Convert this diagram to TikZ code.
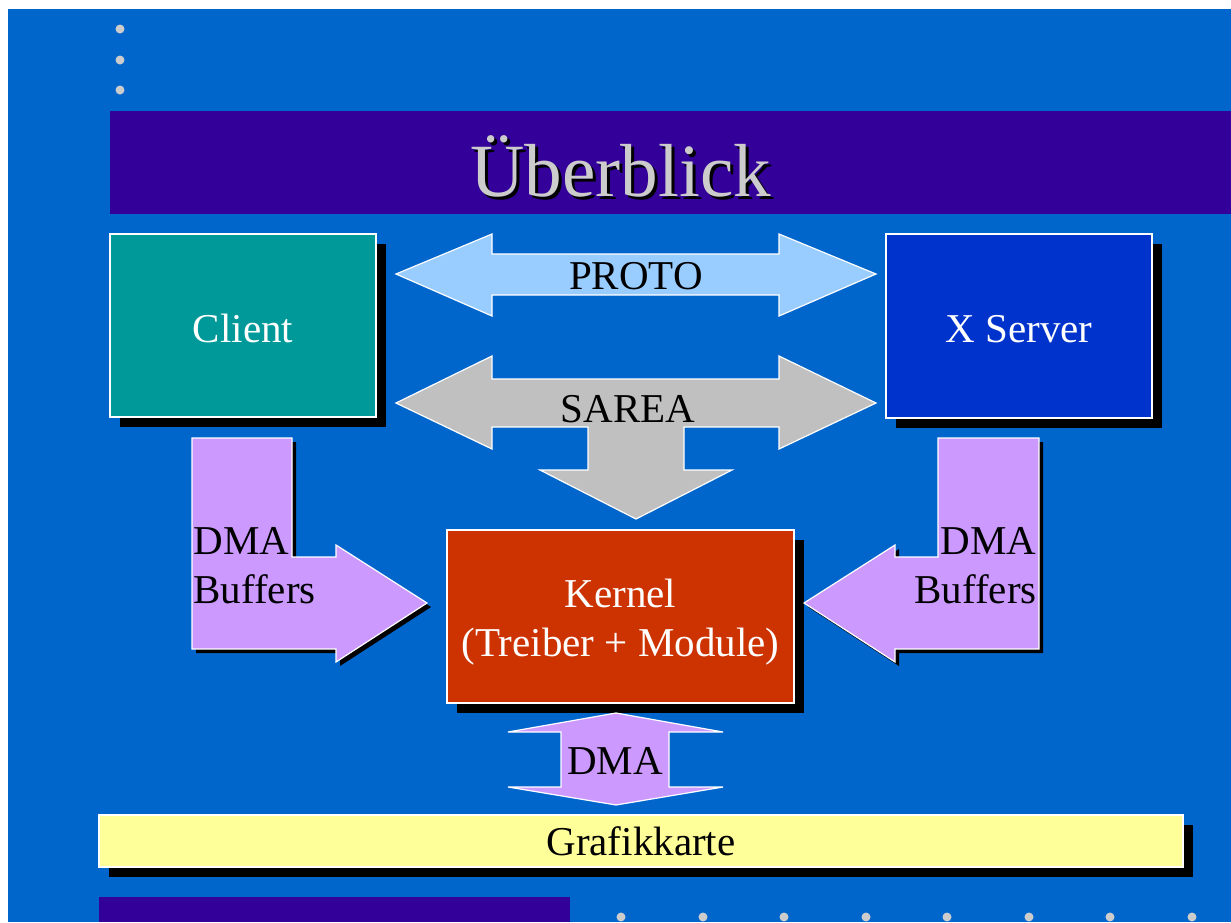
\documentclass[tikz,border=0pt]{standalone}
\usepackage{fontspec}
\setmainfont{Liberation Serif}
\usetikzlibrary{shadows}

\definecolor{slidebg}{HTML}{0066CC}
\definecolor{barpurple}{HTML}{330099}
\definecolor{clientteal}{HTML}{009999}
\definecolor{serverblue}{HTML}{0033CC}
\definecolor{protoblue}{HTML}{99CCFF}
\definecolor{sareagray}{HTML}{C0C0C0}
\definecolor{lilac}{HTML}{CC99FF}
\definecolor{kernelred}{HTML}{CC3300}
\definecolor{cardyellow}{HTML}{FFFF99}
\definecolor{dotgray}{HTML}{CCCCCC}

\tikzset{
  bodyfont/.style={font=\fontsize{20.5}{24.5}\selectfont},
  boxshape/.style={draw=white, line width=0.6pt, inner sep=0pt, bodyfont,
    drop shadow={shadow xshift=5pt, shadow yshift=-5pt, fill=black, opacity=1}},
  blockarrow/.style={draw=white, line width=0.6pt, line join=miter},
  lshadow/.style={drop shadow={shadow xshift=2pt, shadow yshift=-2pt, fill=black, opacity=1}},
  lbl/.style={bodyfont, inner sep=0pt, anchor=base},
  bullet/.style={fill=dotgray},
}

\begin{document}
\begin{tikzpicture}[x=0.5pt, y=-0.5pt]
  \useasboundingbox (0,0) rectangle (1231,922);
  \fill[white] (0,0) rectangle (1231,922);
  \fill[slidebg] (8,9) rectangle (1231,922);

  % bullets and bars of the slide frame
  \foreach \yy in {29,60,90} \fill[bullet] (120,\yy) circle (4.5);
  \foreach \xx in {621,703,784,866,947,1029,1110,1192} \fill[bullet] (\xx,917) circle (4.5);
  \fill[barpurple] (110,111) rectangle (1231,214);
  \fill[barpurple] (99,897) rectangle (570,922);

  % title with shadow
  \node[font=\fontsize{37.6}{40}\selectfont, text=black, anchor=base, inner sep=0pt] (titleshadow) at (624,199) {Überblick};
  \node[font=\fontsize{37.6}{40}\selectfont, text=dotgray, anchor=base, inner sep=0pt] (title) at (621,196) {Überblick};

  % main boxes
  \node[boxshape, fill=clientteal, text=white, minimum width=133pt, minimum height=91.5pt] (client) at (243,325.5) {};
  \node[lbl, text=white] (clienttext) at (243,342) {Client};
  \node[boxshape, fill=serverblue, text=white, minimum width=133pt, minimum height=92pt] (xserver) at (1019,326) {};
  \node[lbl, text=white] (xservertext) at (1019,342) {X Server};
  \node[boxshape, fill=kernelred, minimum width=173.5pt, minimum height=86.5pt] (kernel) at (620.5,616.5) {};
  \node[lbl, text=white] (kerneltext) at (620.5,607) {Kernel};
  \node[lbl, text=white] (kernelsub) at (620.5,656) {(Treiber + Module)};
  \node[boxshape, fill=cardyellow, minimum width=542pt, minimum height=26pt] (card) at (641,841) {};
  \node[lbl, text=black] (cardtext) at (641,855) {Grafikkarte};

  % PROTO double arrow
  \path[blockarrow, fill=protoblue]
    (396,274) -- (492,234) -- (492,254) -- (779,254) -- (779,234) -- (876,274)
    -- (779,316) -- (779,295) -- (492,295) -- (492,316) -- cycle;
  \node[lbl] (proto) at (636,289) {PROTO};

  % SAREA double arrow with branch down to the kernel
  \path[blockarrow, fill=sareagray]
    (396,403) -- (492,356) -- (492,379) -- (779,379) -- (779,356) -- (876,403)
    -- (779,449) -- (779,427) -- (684,427) -- (684,470) -- (732,470) -- (636,519)
    -- (540,470) -- (588,470) -- (588,427) -- (492,427) -- (492,449) -- cycle;
  \node[lbl] (sarea) at (628,422) {SAREA};

  % DMA buffers from the client
  \path[blockarrow, fill=lilac, lshadow]
    (192,438) -- (292,438) -- (292,557) -- (336,557) -- (336,545) -- (427,603)
    -- (336,662) -- (336,649) -- (192,649) -- cycle;
  \node[lbl, anchor=base west] (dmaL) at (193,554) {DMA};
  \node[lbl, anchor=base west] (bufL) at (193,603) {Buffers};

  % DMA buffers from the X server
  \path[blockarrow, fill=lilac, lshadow]
    (804,603) -- (895,545) -- (895,557) -- (938,557) -- (938,438) -- (1039,438)
    -- (1039,649) -- (895,649) -- (895,662) -- cycle;
  \node[lbl, anchor=base east] (dmaR) at (1037,554) {DMA};
  \node[lbl, anchor=base east] (bufR) at (1037,603) {Buffers};

  % DMA between kernel and graphics card
  \path[blockarrow, fill=lilac]
    (616,713) -- (723,732) -- (669,732) -- (669,787) -- (723,787) -- (616,805)
    -- (508,787) -- (561,787) -- (561,732) -- (508,732) -- cycle;
  \node[lbl] (dma) at (615,774) {DMA};
\end{tikzpicture}
\end{document}
